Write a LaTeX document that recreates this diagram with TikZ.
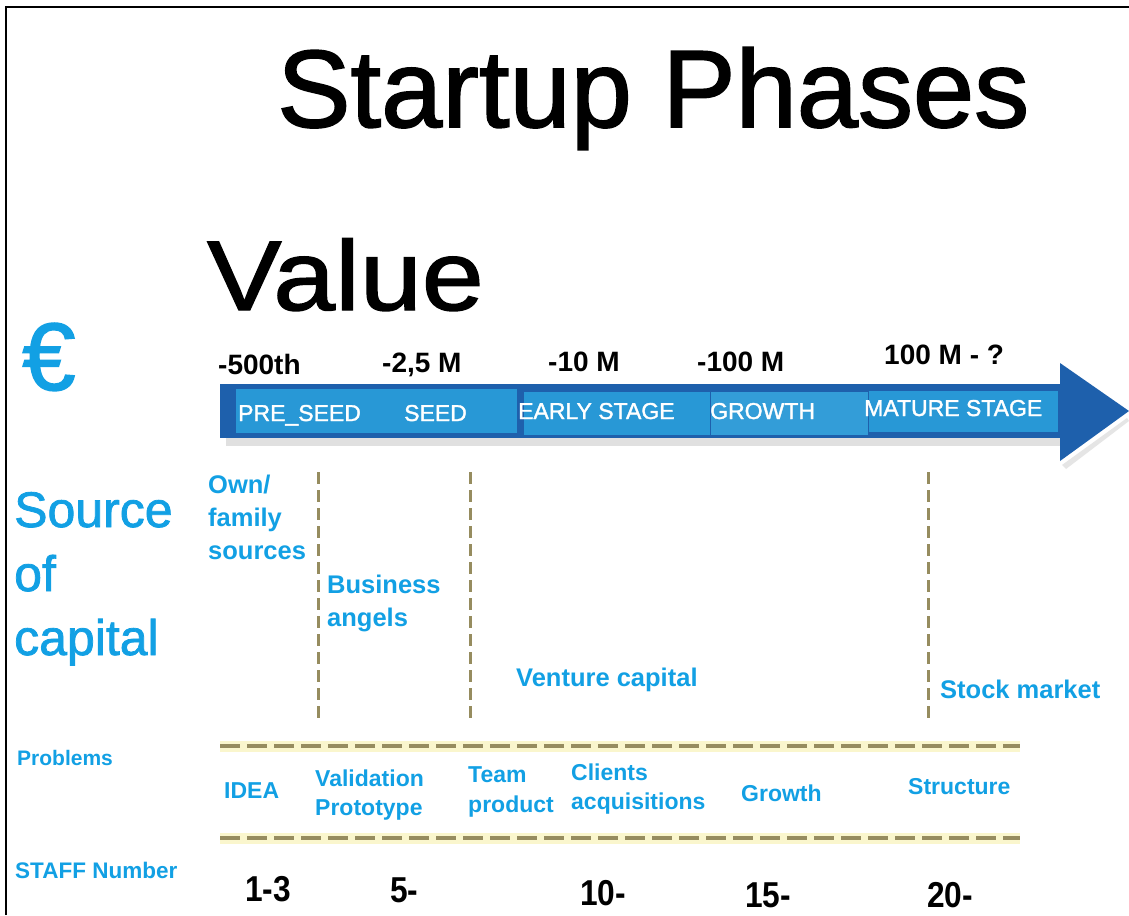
\documentclass[tikz,border=0pt]{standalone}
\usepackage{fontspec}
\setmainfont{Liberation Sans}
\newfontfamily\narrowfont[FakeStretch=0.88]{Liberation Sans}
\newfontfamily\heavyfont[FakeBold=1.5]{Liberation Sans}
\newfontfamily\wideheavyfont[FakeBold=1.5,FakeStretch=1.125]{Liberation Sans}
\definecolor{cblue}{RGB}{18,160,228}
\definecolor{darkarrow}{RGB}{30,96,172}
\definecolor{lightseg}{RGB}{40,152,214}
\definecolor{dashcol}{RGB}{150,140,95}
\definecolor{glow}{RGB}{250,246,205}
\newcommand{\fs}[1]{\fontsize{#1}{#1}\selectfont}
\tikzset{
  lbl/.style={anchor=base west, inner sep=0pt},
  blue lbl/.style={lbl, text=cblue, font=\bfseries\fs{25.5}},
  prob lbl/.style={lbl, text=cblue, font=\bfseries\fs{23}},
  stage lbl/.style={lbl, text=white, font=\heavyfont\fs{23}},
  val lbl/.style={lbl, text=black, font=\bfseries\fs{28}},
  staff lbl/.style={lbl, text=black, font=\narrowfont\bfseries\fs{36}},
  vdash/.style={dashcol, line width=3pt, dash pattern=on 12pt off 6pt},
  hdash/.style={dashcol, line width=4pt, dash pattern=on 20pt off 7pt},
  hglow/.style={glow, line width=11pt},
}
\begin{document}
\begin{tikzpicture}[x=1pt,y=-1pt]
\useasboundingbox (0,0) rectangle (1129,915);
\fill[white] (0,0) rectangle (1129,915);
% frame
\draw[line width=2.5pt] (6,915) -- (6,7) -- (1129,7);
% titles
\node[lbl, font=\heavyfont\fs{110}] (title) at (277,127) {Startup Phases};
\node[lbl, font=\wideheavyfont\fs{99}] (value) at (207,310) {Value};
\node[lbl, text=cblue, font=\heavyfont\fs{96}] (euro) at (22,390) {€};
\node[lbl, text=cblue, font=\heavyfont\fs{50}] (src1) at (14,527) {Source};
\node[lbl, text=cblue, font=\heavyfont\fs{50}] (src2) at (14,591) {of};
\node[lbl, text=cblue, font=\heavyfont\fs{50}] (src3) at (14,655) {capital};
% arrow shadow
\fill[black!12] (226,438) rectangle (1064,446);
\fill[black!10] (1062,465) -- (1127,418) -- (1129,421) -- (1066,469) -- cycle;
% arrow
\fill[darkarrow] (220,384) rectangle (1062,438);
\fill[darkarrow] (1060,363) -- (1129,411) -- (1060,461) -- cycle;
\fill[lightseg] (236,389) rectangle (517,433);
\fill[lightseg] (524,392) rectangle (710,435);
\fill[lightseg!95!white] (711,392) rectangle (868,435);
\fill[lightseg] (869,391) rectangle (1058,432);
\node[stage lbl] (preseed) at (238,421) {PRE\_SEED};
\node[stage lbl] (seed) at (404,421) {SEED};
\node[stage lbl] (early) at (518,419) {EARLY STAGE};
\node[stage lbl] (growth) at (710,419) {GROWTH};
\node[stage lbl] (mature) at (864,416) {MATURE STAGE};
% values
\node[val lbl] (v1) at (218,374) {-500th};
\node[val lbl] (v2) at (382,372) {-2,5 M};
\node[val lbl] (v3) at (548,371) {-10 M};
\node[val lbl] (v4) at (697,371) {-100 M};
\node[val lbl] (v5) at (884,364) {100 M - ?};
% vertical dashed separators
\coordinate (d1t) at (318,472); \coordinate (d1b) at (318,722);
\coordinate (d2t) at (470,472); \coordinate (d2b) at (470,722);
\coordinate (d3t) at (928,472); \coordinate (d3b) at (928,722);
\draw[vdash] (d1t) -- (d1b);
\draw[vdash] (d2t) -- (d2b);
\draw[vdash] (d3t) -- (d3b);
% sources of capital
\node[blue lbl] (own1) at (208,493) {Own/};
\node[blue lbl] (own2) at (208,526) {family};
\node[blue lbl] (own3) at (208,559) {sources};
\node[blue lbl] (ba1) at (327,593) {Business};
\node[blue lbl] (ba2) at (327,626) {angels};
\node[blue lbl] (vc) at (516,686) {Venture capital};
\node[blue lbl] (sm) at (940,698) {Stock market};
% horizontal dashed lines
\coordinate (h1l) at (220,746); \coordinate (h1r) at (1020,746);
\coordinate (h2l) at (220,838); \coordinate (h2r) at (1020,838);
\draw[hglow] (h1l) -- (h1r);
\draw[hglow] (h2l) -- (h2r);
\draw[hdash] (h1l) -- (h1r);
\draw[hdash] (h2l) -- (h2r);
% problems
\node[prob lbl, font=\bfseries\fs{21}] (problems) at (17,765) {Problems};
\node[prob lbl] (idea) at (224,798) {IDEA};
\node[prob lbl] (valid) at (315,786) {Validation};
\node[prob lbl] (proto) at (315,815) {Prototype};
\node[prob lbl] (team) at (468,782) {Team};
\node[prob lbl] (product) at (468,812) {product};
\node[prob lbl] (clients) at (571,780) {Clients};
\node[prob lbl] (acq) at (571,809) {acquisitions};
\node[prob lbl] (grow) at (741,801) {Growth};
\node[prob lbl] (struct) at (908,794) {Structure};
% staff
\node[prob lbl, font=\bfseries\fs{22.5}] (staff) at (15,878) {STAFF Number};
\node[staff lbl] (s1) at (245,901) {1-3};
\node[staff lbl] (s2) at (390,902) {5-};
\node[staff lbl] (s3) at (580,905) {10-};
\node[staff lbl] (s4) at (745,907) {15-};
\node[staff lbl] (s5) at (927,907) {20-};
\end{tikzpicture}
\end{document}
